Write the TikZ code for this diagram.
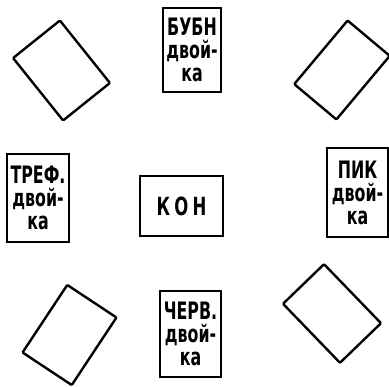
\documentclass[tikz,border=0pt]{standalone}
\usepackage{fontspec}
\newfontfamily\cardfont[FakeStretch=0.66]{DejaVu Sans}
\usepackage{tikz}
\usetikzlibrary{positioning}

\begin{document}
\begin{tikzpicture}[x=1pt,y=-1pt]
  \tikzset{
    card/.style={draw, line width=2.4pt, align=center, inner sep=0pt,
      font=\cardfont\bfseries\fontsize{24}{23}\selectfont},
    blank/.style={draw, line width=2.4pt, rounded corners=1pt, inner sep=0pt},
    pot/.style={draw, line width=2.4pt, inner sep=0pt,
      font=\cardfont\bfseries\fontsize{25}{25}\selectfont}
  }
  \useasboundingbox (0,0) rectangle (389,387);

  % named twos, one per side
  \node[card, minimum width=58pt, minimum height=84pt] (bubn) at (192,50) {БУБН\\двой-\\ка};
  \node[card, minimum width=62pt, minimum height=88pt] (tref) at (38,198) {ТРЕФ.\\двой-\\ка};
  \node[card, minimum width=61pt, minimum height=89pt] (pik) at (357.5,192.5) {ПИК\\двой-\\ка};
  \node[card, minimum width=61pt, minimum height=86pt] (cherv) at (190.5,334) {ЧЕРВ.\\двой-\\ка};

  % the pot in the middle
  \node[pot, minimum width=83pt, minimum height=60pt] (kon) at (181.5,206) {К\,О\,Н};

  % blank cards in the corners
  \node[blank, minimum width=60pt, minimum height=80pt, rotate=38.7] (tl) at (61.5,70.5) {};
  \node[blank, minimum width=55pt, minimum height=83pt, rotate=-40] (tr) at (342,70) {};
  \node[blank, minimum width=59pt, minimum height=81pt, rotate=-33.5] (bl) at (69.5,335) {};
  \node[blank, minimum width=57pt, minimum height=82pt, rotate=44] (br) at (332,313.5) {};
\end{tikzpicture}
\end{document}
